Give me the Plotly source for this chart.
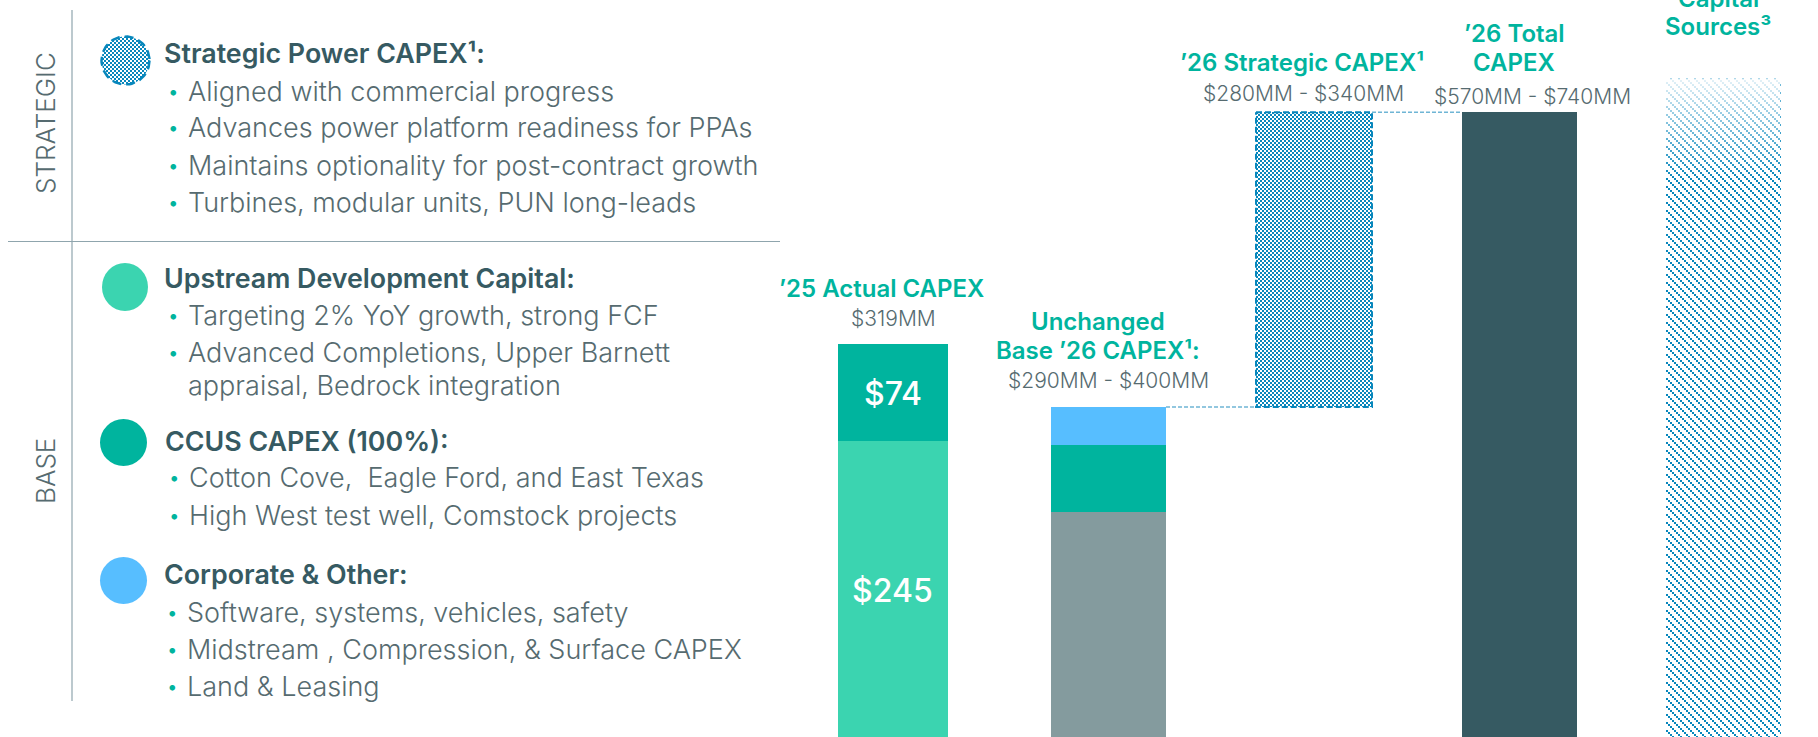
import numpy as np
import plotly.graph_objects as go

W, H = 1818, 737

# ---- data
bar_labels = ["'25 Actual", "Base '26", "'26 Strategic", "'26 Total", "Capital Sources"]
actual_upstream = [245]
actual_ccus = [74]
base_other = [191]
base_ccus = [51]
base_corporate = [29]
strategic = [225]
total = [496]
sources = [522]

bullets_strategic = ["Aligned with commercial progress", "Advances power platform readiness for PPAs",
                     "Maintains optionality for post-contract growth", "Turbines, modular units, PUN long-leads"]
bullets_upstream = ["Targeting 2% YoY growth, strong FCF", "Advanced Completions, Upper Barnett"]
bullets_ccus = ["Cotton Cove,  Eagle Ford, and East Texas", "High West test well, Comstock projects"]
bullets_corp = ["Software, systems, vehicles, safety", "Midstream , Compression, & Surface CAPEX", "Land & Leasing"]

# ---- layout constants (pixels)
centers = [893, 1108.5, 1314, 1519.5, 1723]
widths = [110, 115, 116, 115, 115]
PX = 1.31          # pixels per $MM
BASE_Y = 762       # pixel row of $0, below the visible frame
y_range = [(BASE_Y - H) / PX, BASE_Y / PX]

FONT = "Inter"
TEAL, GREEN, BLUE, GRAY, DARK, PBLUE = "#00B49E", "#3BD4B0", "#57BEFF", "#849B9E", "#365A62", "#0887BC"
TXT, RULE = "#566B70", "#8FA5AD"
CHECK = "M0,0H2V2H0ZM2,2H4V4H2Z"
STAIR = "M0,0H2V2H0ZM2,2H4V4H2ZM4,4H6V6H4ZM6,6H8V8H6Z"
def patt(path, size):
    return dict(path=path, size=size, fgcolor=PBLUE, bgcolor="white", solidity=1, fgopacity=1, fillmode="replace")

fig = go.Figure()
def bar(i, v, base, color, **m):
    fig.add_trace(go.Bar(x=[centers[i]], y=[v], base=[base], width=[widths[i]],
                         marker=dict(color=color, line_width=0, **m), showlegend=False, hoverinfo="skip"))

bar(0, actual_upstream[0], 0, GREEN)
bar(0, actual_ccus[0], actual_upstream[0], TEAL)
bar(1, base_other[0], 0, GRAY)
bar(1, base_ccus[0], base_other[0], TEAL)
bar(1, base_corporate[0], base_other[0] + base_ccus[0], BLUE)
base_top = base_other[0] + base_ccus[0] + base_corporate[0]
bar(2, strategic[0], base_top, "white", pattern=patt(CHECK, 4))
bar(3, total[0], 0, DARK)
bar(4, sources[0], 0, "white", pattern=patt(STAIR, 8))

# fade on the sources bar: only the top ~100 px
fl, fr = centers[4] - widths[4] / 2, centers[4] + widths[4] / 2
span = sources[0] - y_range[0]
f0 = 1 - (100 / PX) / span
fig.add_trace(go.Scatter(x=[fl, fr, fr, fl, fl],
                         y=[sources[0], sources[0], y_range[0], y_range[0], sources[0]],
                         mode="none", fill="toself", hoverinfo="skip", showlegend=False,
                         fillgradient=dict(type="vertical", colorscale=[[0, "rgba(255,255,255,0)"], [f0, "rgba(255,255,255,0)"], [1, "rgba(255,255,255,0.9)"]])))

# dashed outline on strategic bar
sl, sr = centers[2] - widths[2] / 2, centers[2] + widths[2] / 2
stop = base_top + strategic[0]
fig.add_trace(go.Scatter(x=[sl, sr, sr, sl, sl], y=[stop, stop, base_top, base_top, stop], mode="lines",
                         line=dict(color=PBLUE, width=2, dash="6px 3px"), hoverinfo="skip", showlegend=False))
# connectors
for a, b, lvl in [(1, 2, base_top), (2, 3, stop)]:
    fig.add_trace(go.Scatter(x=[centers[a] + widths[a] / 2, centers[b] - widths[b] / 2], y=[lvl, lvl], mode="lines",
                             line=dict(color="#6FB5D5", width=1.5, dash="4px 2px"), hoverinfo="skip", showlegend=False))

# legend swatch with pattern: filled circle on the same pixel-aligned axes
t = np.linspace(0, 2 * np.pi, 73)
fig.add_trace(go.Scatter(x=125.5 + 24 * np.cos(t), y=(BASE_Y - 60.5 - 24 * np.sin(t)) / PX, mode="lines",
                         fill="toself", fillcolor="white", fillpattern=patt(CHECK, 4),
                         line=dict(color=PBLUE, width=2.5, dash="9px 5px"), hoverinfo="skip", showlegend=False))

ann = []
def T(x, y, s, size, color=TXT, weight=400, anchor="left", angle=0):
    ann.append(dict(x=x / W, y=1 - y / H, xref="paper", yref="paper", text=s, showarrow=False, xanchor=anchor,
                    yanchor="middle", textangle=angle, font=dict(family=FONT, size=size, color=color, weight=weight)))

HEAD, BODY = 26.8, 27
def head(x, y, s): T(x, y, s, HEAD, DARK, 600)
def item(x, y, s):
    T(x - 19, y, "•", 18, TEAL, 700)
    T(x, y, s, BODY, TXT, 300)

head(162, 53, "Strategic Power CAPEX¹:")
for y, s in zip([91.5, 128, 166, 203], bullets_strategic): item(186, y, s)
head(162, 278, "Upstream Development Capital:")
for y, s in zip([315.5, 353], bullets_upstream): item(186, y, s)
T(186, 386, "appraisal, Bedrock integration", BODY, TXT, 300)
head(163, 440.5, "CCUS CAPEX (100%):")
for y, s in zip([477, 515], bullets_ccus): item(187, y, s)
head(162, 574, "Corporate & Other:")
for y, s in zip([612, 649, 686], bullets_corp): item(185, y, s)

T(45, 123, "STRATEGIC", 26, TXT, 300, "center", -90)
T(45, 471, "BASE", 26, TXT, 300, "center", -90)

TT, SUB = 24, 21
def title(x, y, s): T(x, y, s, TT, TEAL, 600, "center")
def sub(x, y, s): T(x, y, s, SUB, TXT, 300, "center")
title(881, 288.5, "’25 Actual CAPEX"); sub(893, 319, "$319MM")
title(1098, 321, "Unchanged"); title(1098, 350, "Base ’26 CAPEX¹:"); sub(1108, 380, "$290MM - $400MM")
title(1302, 62.6, "’26 Strategic CAPEX¹"); sub(1303, 94, "$280MM - $340MM")
title(1514, 33.6, "’26 Total"); title(1514, 62.6, "CAPEX"); sub(1532, 97, "$570MM - $740MM")
title(1718, -2, "Capital"); title(1718, 27, "Sources³")
T(893, 393, f"${actual_ccus[0]}", 32, "white", 500, "center")
T(892, 590, f"${actual_upstream[0]}", 32, "white", 500, "center")

def line(x0, y0, x1, y1):
    return dict(type="line", xref="paper", yref="paper", x0=x0 / W, x1=x1 / W, y0=1 - y0 / H, y1=1 - y1 / H,
                line=dict(color=RULE, width=1.2))
def circ(x0, y0, x1, y1, color):
    return dict(type="circle", xref="paper", yref="paper", x0=x0 / W, x1=x1 / W, y0=1 - y0 / H, y1=1 - y1 / H,
                line_width=0, fillcolor=color)

shapes = [line(72, 10, 72, 701), line(8, 241.5, 780, 241.5),
          circ(102, 263, 148, 311, GREEN), circ(100, 419, 147, 466, TEAL), circ(100, 557, 147, 604, BLUE)]

fig.update_layout(width=W, height=H, margin=dict(l=0, r=0, t=0, b=0), barmode="overlay", bargap=0,
                  paper_bgcolor="white", plot_bgcolor="white", annotations=ann, shapes=shapes,
                  xaxis=dict(range=[0, W], visible=False, fixedrange=True),
                  yaxis=dict(range=y_range, visible=False, fixedrange=True), showlegend=False)
fig.write_html("out.html", config={"displayModeBar": False},
               post_script="document.body.style.margin='0';document.body.style.overflow='hidden';")
